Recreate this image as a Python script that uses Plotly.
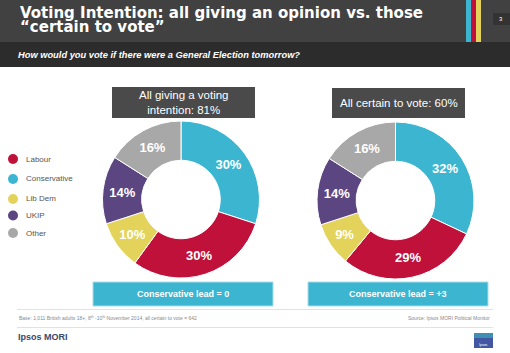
import plotly.graph_objects as go

W, H = 510, 353

# ---- data ----
parties = ["Labour", "Conservative", "Lib Dem", "UKIP", "Other"]
party_colors = ["#c0113a", "#3bb5d0", "#e3d35b", "#5c4682", "#a8a8a8"]
all_giving = [30, 30, 10, 14, 16]      # All giving a voting intention: 81%
all_certain = [29, 32, 9, 14, 16]      # All certain to vote: 60%
pie_order = ["Conservative", "Labour", "Lib Dem", "UKIP", "Other"]
box_titles = ["All giving a voting<br>intention: 81%", "All certain to vote: 60%"]
lead_labels = ["Conservative lead = 0", "Conservative lead = +3"]

title_l1 = "Voting Intention: all giving an opinion vs. those"
title_l2 = "\u201ccertain to vote\u201d"
subtitle = "How would you vote if there were a General Election tomorrow?"
base_note = "Base: 1,011 British adults 18+, 8<sup>th</sup> -10<sup>th</sup> November 2014, all certain to vote = 642"
source_note = "Source: Ipsos MORI Political Monitor"


def px(x):
    return x / W


def py(y):
    return 1 - y / H


def val(series, name):
    return series[parties.index(name)]


def col(name):
    return party_colors[parties.index(name)]


fig = go.Figure()

donuts = [
    (all_giving, (102, 260), (121, 278)),
    (all_certain, (316.5, 474.5), (122, 279)),
]
for series, (x0, x1), (y0, y1) in donuts:
    fig.add_trace(go.Pie(
        labels=pie_order,
        values=[val(series, p) for p in pie_order],
        marker=dict(colors=[col(p) for p in pie_order], line=dict(color="white", width=1)),
        hole=0.5,
        sort=False,
        direction="clockwise",
        rotation=0,
        texttemplate="<b>%{value}%</b>",
        textposition="inside",
        insidetextorientation="horizontal",
        textfont=dict(family="Liberation Sans, Arial", size=13, color="white"),
        hoverinfo="skip",
        showlegend=False,
        domain=dict(x=[px(x0), px(x1)], y=[py(y1), py(y0)]),
    ))

shapes = []
ann = []


def rect(x0, y0, x1, y1, color, line=None):
    shapes.append(dict(type="rect", xref="paper", yref="paper",
                       x0=px(x0), x1=px(x1), y0=py(y1), y1=py(y0),
                       fillcolor=color, line=dict(width=0) if line is None else line,
                       layer="below"))


def text(x, y, s, size, color, xanchor="left", family="Liberation Sans, Arial"):
    ann.append(dict(x=px(x), y=py(y), xref="paper", yref="paper", text=s,
                    showarrow=False, xanchor=xanchor, yanchor="middle",
                    font=dict(size=size, color=color, family=family)))


# header
rect(0, 0, W, 42, "#414141")
rect(0, 42, W, 67, "#2c2c2c")
rect(466, 0, 471, 42, "#3bb5d0")
rect(471, 0, 476, 42, "#c0113a")
rect(476, 0, 481, 42, "#e3d35b")
rect(493, 13, W, 25, "#333333")
text(497, 19, "3", 6, "white")
text(18, 12.5, "<b>" + title_l1 + "</b>", 15, "white", family="DejaVu Sans")
text(18, 27.5, "<b>" + title_l2 + "</b>", 15, "white", family="DejaVu Sans")
text(16, 54.5, "<b><i>" + subtitle + "</i></b>", 9.3, "white")

# box titles
rect(112, 87, 255, 118, "#4a4a4a")
rect(332, 88, 465, 118, "#4a4a4a")
text(183.5, 102.5, box_titles[0], 11.5, "white", xanchor="center")
text(398.5, 103.3, box_titles[1], 11.5, "white", xanchor="center")

# lead boxes
lead_line = dict(color="#a9dde9", width=1)
rect(93, 282, 273, 306, "#3bb5d0", lead_line)
rect(308, 282, 488, 306, "#3bb5d0", lead_line)
text(183, 293.5, "<b>" + lead_labels[0] + "</b>", 9, "white", xanchor="center")
text(398, 293.5, "<b>" + lead_labels[1] + "</b>", 9, "white", xanchor="center")

# legend
legend_y = [159, 179, 199, 215.5, 233]
for name, c, ly in zip(parties, party_colors, legend_y):
    shapes.append(dict(type="circle", xref="paper", yref="paper",
                       x0=px(8), x1=px(18), y0=py(ly + 5), y1=py(ly - 5),
                       fillcolor=c, line=dict(width=0)))
    text(23.5, ly, name, 8, "#555555")

# footer
shapes.append(dict(type="line", xref="paper", yref="paper", x0=px(17), x1=px(493),
                   y0=py(309.5), y1=py(309.5), line=dict(color="#e2e2e2", width=1)))
shapes.append(dict(type="line", xref="paper", yref="paper", x0=px(17), x1=px(493),
                   y0=py(327.5), y1=py(327.5), line=dict(color="#e2e2e2", width=1)))
text(17, 318, base_note, 5, "#8a8a8a")
text(492, 318, source_note, 5, "#8a8a8a", xanchor="right")
text(15.5, 336.5, "<b>Ipsos MORI</b>", 9, "#3a4868")
rect(474, 333, 493, 348, "#4257a3")
rect(474, 333, 493, 338, "#3f8fb3")
text(483.5, 345, "Ipsos", 3.5, "white", xanchor="center")

fig.update_layout(
    width=W, height=H,
    margin=dict(l=0, r=0, t=0, b=0),
    paper_bgcolor="white", plot_bgcolor="white",
    shapes=shapes, annotations=ann,
)

fig.write_html("out.html")
